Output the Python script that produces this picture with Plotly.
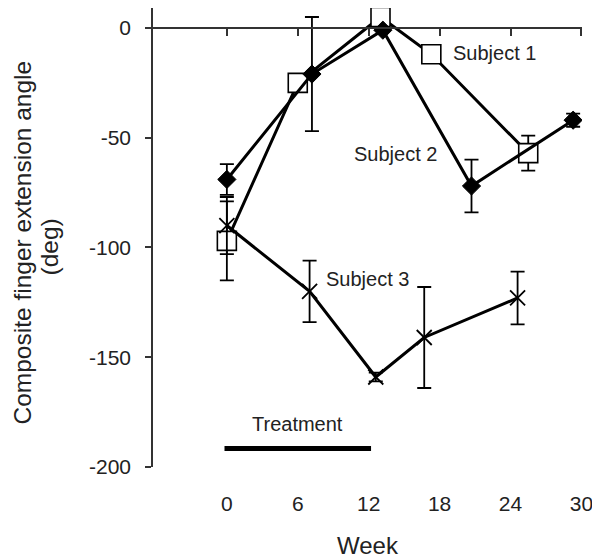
import plotly.graph_objects as go

# ---- data ----
week_s1 = [0, 6, 13, 17.3, 25.5]
angle_s1 = [-97, -25, 5, -12, -57]
err_s1 = [18, 0, 0, 0, 8]

week_s2 = [0, 7.2, 13.2, 20.7, 29.3]
angle_s2 = [-69, -21, -1, -72, -42]
err_s2 = [7, 26, 0, 12, 3]

week_s3 = [0, 7, 12.6, 16.7, 24.6]
angle_s3 = [-90, -120, -159, -141, -123]
err_s3 = [13, 14, 2, 23, 12]

treatment_weeks = [-0.2, 12.2]
treatment_level = [-191.6, -191.6]

x_ticks = [0, 6, 12, 18, 24, 30]
y_ticks = [0, -50, -100, -150, -200]
y_tick_labels = ["0", "-50", "-100", "-150", "-200"]

x_range = [-6.25, 30.05]
y_range = [-200, 9.1]

FONT = "Liberation Sans, Arial, sans-serif"
TXT = "#222"

fig = go.Figure()

eb = dict(type="data", thickness=1.8, width=7, color="black")

fig.add_trace(go.Scatter(
    x=week_s1, y=angle_s1, mode="lines+markers",
    error_y=dict(array=err_s1, **eb),
    line=dict(color="black", width=3),
    marker=dict(symbol="square", size=19, color="white",
                line=dict(color="black", width=1.6)),
    showlegend=False))

fig.add_trace(go.Scatter(
    x=week_s2, y=angle_s2, mode="lines+markers",
    error_y=dict(array=err_s2, **eb),
    line=dict(color="black", width=3),
    marker=dict(symbol="diamond", size=14, color="black",
                line=dict(color="black", width=1)),
    showlegend=False))

fig.add_trace(go.Scatter(
    x=week_s3, y=angle_s3, mode="lines+markers",
    error_y=dict(array=err_s3, **eb),
    line=dict(color="black", width=3),
    marker=dict(symbol="x-thin-open", size=15, color="black",
                line=dict(color="black", width=1.8)),
    showlegend=False))

fig.add_trace(go.Scatter(
    x=treatment_weeks, y=treatment_level, mode="lines",
    xaxis="x2",
    line=dict(color="black", width=5),
    showlegend=False))

zero_pos = (0 - y_range[0]) / (y_range[1] - y_range[0])

fig.update_layout(
    width=592, height=552,
    margin=dict(l=145, r=18, t=0, b=93),
    paper_bgcolor="white", plot_bgcolor="white",
    font=dict(family=FONT, color=TXT, size=20),
    xaxis=dict(range=x_range, tickvals=x_ticks, showline=False,
               ticks="", showgrid=False, zeroline=False,
               ticklabelstandoff=22,
               tickfont=dict(size=21, color=TXT, family=FONT)),
    xaxis2=dict(overlaying="x", matches="x", anchor="free",
                position=zero_pos, side="bottom",
                range=x_range, tickvals=x_ticks, showticklabels=False,
                showline=True, linecolor="#333", linewidth=1.5,
                ticks="outside", ticklen=7, tickwidth=1.5, tickcolor="#333",
                showgrid=False, zeroline=False),
    yaxis=dict(range=y_range, tickvals=y_ticks, ticktext=y_tick_labels,
               showline=True,
               linecolor="#333", linewidth=1.5,
               ticks="outside", ticklen=6, tickwidth=1.5, tickcolor="#333",
               showgrid=False, zeroline=False, ticklabelstandoff=10,
               tickfont=dict(size=21, color=TXT, family=FONT)),
    annotations=[
        dict(text="Subject 1", x=19.0, y=-11.5, xref="x", yref="y",
             xanchor="left", yanchor="middle", showarrow=False,
             font=dict(size=20, color=TXT, family=FONT)),
        dict(text="Subject 2", x=10.6, y=-57.5, xref="x", yref="y",
             xanchor="left", yanchor="middle", showarrow=False,
             font=dict(size=20, color=TXT, family=FONT)),
        dict(text="Subject 3", x=8.2, y=-114.5, xref="x", yref="y",
             xanchor="left", yanchor="middle", showarrow=False,
             font=dict(size=20, color=TXT, family=FONT)),
        dict(text="Treatment", x=6, y=-180.5, xref="x", yref="y",
             xanchor="center", yanchor="middle", showarrow=False,
             font=dict(size=20, color=TXT, family=FONT)),
        dict(text="Week", x=0.5, y=0, xref="paper", yref="paper",
             xanchor="center", yanchor="middle", yshift=-78,
             showarrow=False, font=dict(size=24, color=TXT, family=FONT)),
        dict(text="Composite finger extension angle", x=0, y=0.5,
             xref="paper", yref="paper", xanchor="center", yanchor="middle",
             xshift=-131, yshift=-5, textangle=-90, showarrow=False,
             font=dict(size=24.5, color=TXT, family=FONT)),
        dict(text="(deg)", x=0, y=0.5,
             xref="paper", yref="paper", xanchor="center", yanchor="middle",
             xshift=-104, yshift=-10, textangle=-90, showarrow=False,
             font=dict(size=24.5, color=TXT, family=FONT)),
    ],
)

fig.write_html("out.html")
